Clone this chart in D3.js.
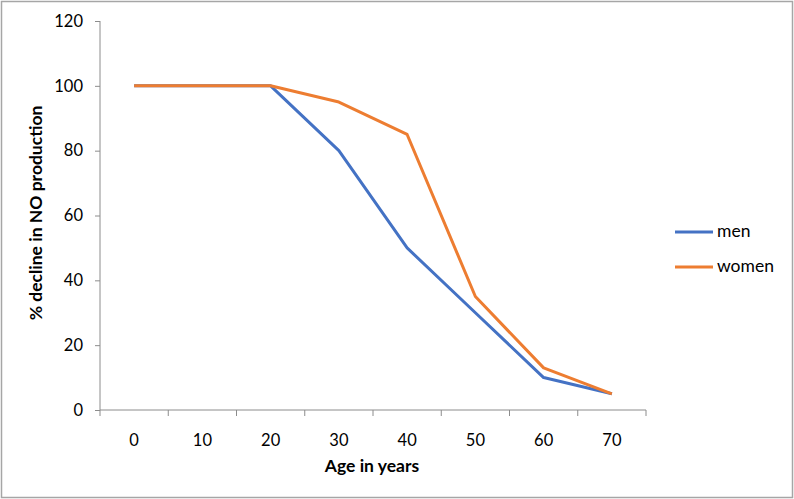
<!DOCTYPE html>
<html><head><meta charset="utf-8">
<script src="https://cdn.jsdelivr.net/npm/d3@7"></script>
<style>body{margin:0;background:#fff}svg{display:block}</style>
</head><body>
<script>
const ages = ["0","10","20","30","40","50","60","70"];
const men = [100,100,100,80,50,30,10,5];
const women = [100,100,100,95,85,35,13,5];
const yTicks = [0,20,40,60,80,100,120];
const seriesNames = ["men","women"];
const colors = ["#4472C4","#ED7D31"];

const W=794,H=499;
const svg=d3.select("body").append("svg").attr("width",W).attr("height",H);
svg.append("rect").attr("x",1.5).attr("y",1.5).attr("width",W-3).attr("height",H-3)
  .attr("fill","#fff").attr("stroke","#a6a6a6").attr("stroke-width",1.5);

const x=d3.scaleBand().domain(ages).range([100,646]);
const y=d3.scaleLinear().domain([0,120]).range([410,21]);
const font="Lato, 'Open Sans', sans-serif";
const axisColor="#8c8c8c";

// y axis
const ya=svg.append("g").attr("transform","translate(100,0)")
  .call(d3.axisLeft(y).tickValues(yTicks).tickSize(5).tickPadding(12));
ya.select(".domain").attr("stroke",axisColor).attr("d","M0,21V410");
ya.selectAll(".tick line").attr("stroke",axisColor);
ya.selectAll("text").attr("font-family",font).attr("font-size",16.5).attr("fill","#000");

// x axis
const xa=svg.append("g").attr("transform","translate(0,410)")
  .call(d3.axisBottom(x).tickSize(0).tickPadding(24));
xa.select(".domain").attr("stroke",axisColor).attr("d","M100,0H646");
xa.selectAll("text").attr("font-family",font).attr("font-size",16.5).attr("fill","#000");
const edges=ages.map(a=>x(a)).concat([x(ages[ages.length-1])+x.bandwidth()]);
xa.selectAll(".edge").data(edges).join("line").attr("class","edge")
  .attr("x1",d=>d).attr("x2",d=>d).attr("y1",0).attr("y2",6).attr("stroke",axisColor);

// lines
const line=d3.line().x((d,i)=>x(ages[i])+x.bandwidth()/2).y(d=>y(d));
[men,women].forEach((s,k)=>{
  svg.append("path").datum(s).attr("d",line).attr("fill","none")
    .attr("stroke",colors[k]).attr("stroke-width",3).attr("stroke-linejoin","round");
});

// titles
svg.append("text").attr("x",372).attr("y",472).attr("text-anchor","middle")
  .attr("font-family",font).attr("font-weight","bold").attr("font-size",17.5).text("Age in years");
svg.append("text").attr("transform","translate(42,213) rotate(-90)").attr("text-anchor","middle")
  .attr("font-family",font).attr("font-weight","bold").attr("font-size",17.5).text("% decline in NO production");

// legend
seriesNames.forEach((n,k)=>{
  const ly=232+k*35;
  svg.append("line").attr("x1",675).attr("x2",713).attr("y1",ly).attr("y2",ly)
    .attr("stroke",colors[k]).attr("stroke-width",3);
  svg.append("text").attr("x",717).attr("y",ly+5).attr("font-family",font).attr("font-size",17.5).text(n);
});
</script>
</body></html>
